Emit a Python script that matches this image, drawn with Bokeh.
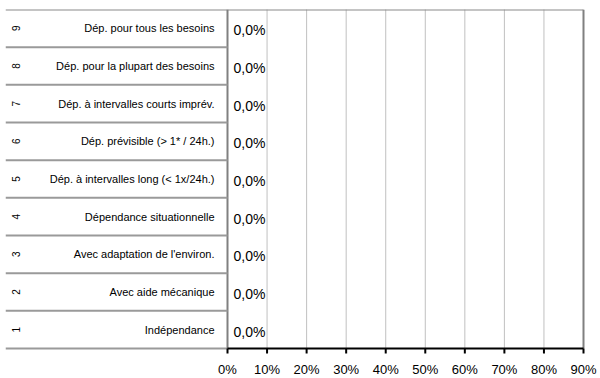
import math
from bokeh.plotting import figure
from bokeh.models import Range1d, ColumnDataSource
from bokeh.core.properties import value
from bokeh.embed import file_html
from bokeh.resources import INLINE

# ---- data ----
levels = ["1", "2", "3", "4", "5", "6", "7", "8", "9"]
categories = [
    "Indépendance",
    "Avec aide mécanique",
    "Avec adaptation de l'environ.",
    "Dépendance situationnelle",
    "Dép. à intervalles long (< 1x/24h.)",
    "Dép. prévisible (> 1* / 24h.)",
    "Dép. à intervalles courts imprév.",
    "Dép. pour la plupart des besoins",
    "Dép. pour tous les besoins",
]
values = [0.0, 0.0, 0.0, 0.0, 0.0, 0.0, 0.0, 0.0, 0.0]
x_ticks = [0, 10, 20, 30, 40, 50, 60, 70, 80, 90]
tick_labels = ["0%", "10%", "20%", "30%", "40%", "50%", "60%", "70%", "80%", "90%"]

FONT = "Liberation Sans"
n = len(categories)
X_MAX = x_ticks[-1]
PX_PER_X = 356 / X_MAX        # 0%..90% spans 356 px
X_MIN = -222 / PX_PER_X       # room for the label table left of the 0% axis
X_END = X_MAX + 17 / PX_PER_X # room right of the plot for the last tick label
Y_MIN = -30 / (339 / n)       # room under the axis for the tick labels

centers = [i + 0.5 for i in range(n)]
source = ColumnDataSource(dict(
    y=centers,
    val=values,
    cat=categories,
    lvl=levels,
    lbl=[("%.1f%%" % v).replace(".", ",") for v in values],
    left_edge=[X_MIN] * n,
    zero=[0] * n,
))
tick_source = ColumnDataSource(dict(x=x_ticks, y=[0] * len(x_ticks), text=tick_labels))

p = figure(width=600, height=378, output_backend="svg", toolbar_location=None,
           x_range=Range1d(X_MIN, X_END), y_range=Range1d(Y_MIN, n),
           x_axis_location=None, y_axis_location=None,
           min_border_left=5, min_border_right=0,
           min_border_top=9, min_border_bottom=0)
p.outline_line_color = None
p.background_fill_color = "white"
p.border_fill_color = "white"
p.xgrid.visible = False
p.ygrid.visible = False

# dotted vertical grid lines (value axis)
inner = x_ticks[1:-1]
p.segment(x0=inner, x1=inner, y0=[0] * len(inner), y1=[n] * len(inner),
          line_color="#808080", line_dash="1 1", line_width=1)

# bars (zero-valued)
p.hbar(y="y", left="zero", right="val", height=0.5, source=source,
       fill_color="#9999ff", line_color="black")

# borders: top line across table and plot, left axis, right edge
p.segment(x0=[X_MIN], x1=[X_MAX], y0=[n], y1=[n], line_color="#8a8a8a", line_width=2)
p.segment(x0=[x_ticks[0], X_MAX], x1=[x_ticks[0], X_MAX], y0=[0, 0], y1=[n, n],
          line_color="#808080", line_width=2)

# table separators
sep_y = list(range(n))
p.segment(x0=[X_MIN] * n, x1=[0] * n, y0=sep_y, y1=sep_y,
          line_color="#9a9a9a", line_width=2)

# value axis: line, ticks, labels
p.segment(x0=[x_ticks[0]], x1=[X_MAX], y0=[0], y1=[0], line_color="black", line_width=2)
p.ray(x="x", y="y", source=tick_source, length=5, length_units="screen",
      angle=-math.pi / 2, line_color="black", line_width=2)
p.text(x="x", y="y", text="text", source=tick_source, y_offset=13,
       text_align="center", text_baseline="top",
       text_font=value(FONT), text_font_size="13px", text_color="black")

# level numbers (rotated)
p.text(x="left_edge", y="y", text="lvl", source=source, x_offset=10,
       angle=math.pi / 2, text_align="center", text_baseline="middle",
       text_font=value(FONT), text_font_size="10px", text_color="black")

# category labels
p.text(x="zero", y="y", text="cat", source=source, x_offset=-13,
       text_align="right", text_baseline="middle",
       text_font=value(FONT), text_font_size="11px", text_color="black")

# value labels
p.text(x="val", y="y", text="lbl", source=source, x_offset=6, y_offset=2,
       text_align="left", text_baseline="middle",
       text_font=value(FONT), text_font_size="14px", text_color="black")

open("out.html", "w").write(file_html(p, INLINE))
